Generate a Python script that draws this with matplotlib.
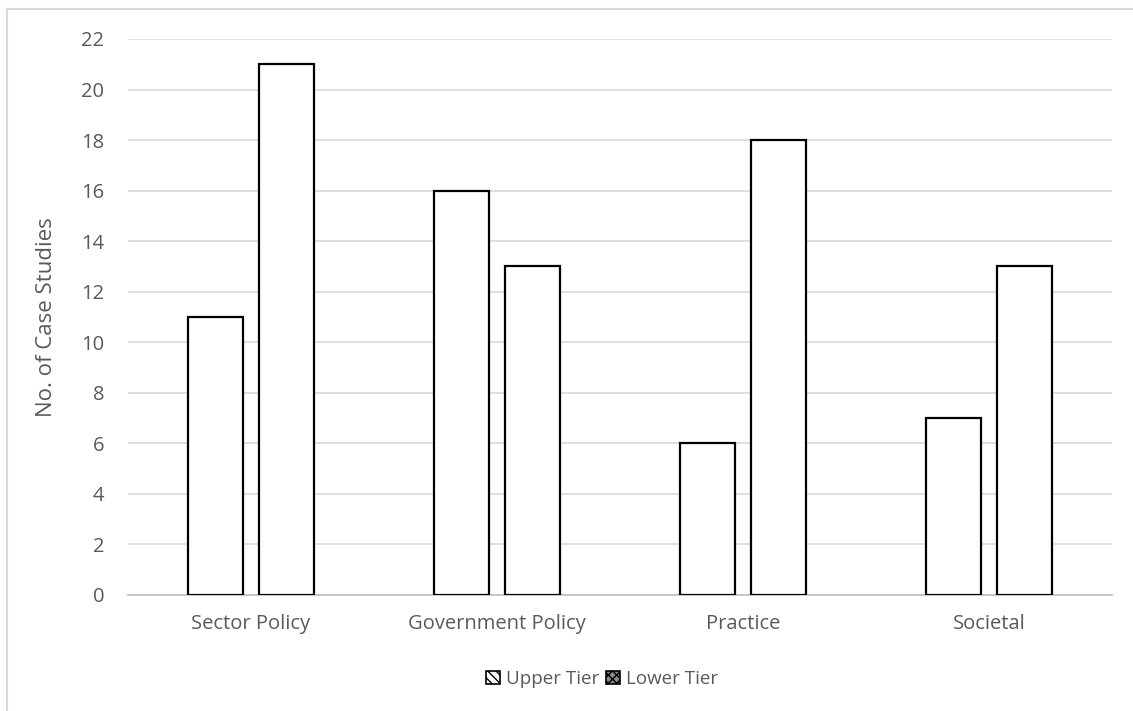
import matplotlib.pyplot as plt
from matplotlib.patches import Patch
from matplotlib.lines import Line2D
import numpy as np

plt.rcParams['font.family'] = ['Open Sans', 'DejaVu Sans']

categories = ["Sector Policy", "Government Policy", "Practice", "Societal"]
upper_tier = [11, 16, 6, 7]
lower_tier = [21, 13, 18, 13]

W, H = 1133, 711
fig = plt.figure(figsize=(W / 100, H / 100), dpi=100)
ax = fig.add_axes([128 / W, 1 - 595 / H, (1112 - 128) / W, (595 - 39) / H])

x = np.arange(len(categories))
bw = 0.227
off = 0.144
ax.bar(x - off, upper_tier, bw, facecolor='white', edgecolor='black', linewidth=1.6, zorder=3)
ax.bar(x + off, lower_tier, bw, facecolor='white', edgecolor='black', linewidth=1.6, zorder=3)

ax.set_xlim(-0.5, len(categories) - 0.5)
ax.set_ylim(0, 22)
ax.set_yticks(range(0, 23, 2))
ax.yaxis.grid(True, color='#d9d9d9', linewidth=1.2, zorder=0)
ax.set_axisbelow(True)
for s in ['top', 'right', 'left']:
    ax.spines[s].set_visible(False)
ax.spines['bottom'].set_color('#bfbfbf')
ax.spines['bottom'].set_linewidth(1.2)
ax.tick_params(axis='both', length=0, labelsize=14.5, colors='#595959')
ax.tick_params(axis='y', pad=17)
ax.tick_params(axis='x', pad=14)
ax.set_xticks(x)
ax.set_xticklabels(categories)
ax.set_ylabel("No. of Case Studies", fontsize=16, color='#595959')
ax.yaxis.set_label_coords(-0.072, 0.5)

handles = [Patch(facecolor='white', edgecolor='black', hatch='\\\\\\\\', linewidth=1.2),
           Patch(facecolor='#888888', edgecolor='black', hatch='xxxx', linewidth=1.2)]
leg = fig.legend(handles, ["Upper Tier", "Lower Tier"], loc='center', bbox_to_anchor=(602 / W, 1 - 679 / H),
                 ncol=2, frameon=False, fontsize=13.5, handlelength=0.75, handleheight=0.75,
                 handletextpad=0.3, columnspacing=0.4)
for t in leg.get_texts():
    t.set_color('#595959')

# chart frame edges
fig.add_artist(Line2D([7 / W, 7 / W], [0, 1 - 9 / H], color='#d9d9d9', linewidth=1.5))
fig.add_artist(Line2D([7 / W, 1], [1 - 9 / H, 1 - 9 / H], color='#d9d9d9', linewidth=1.5))

fig.savefig("out.png", dpi=100)
